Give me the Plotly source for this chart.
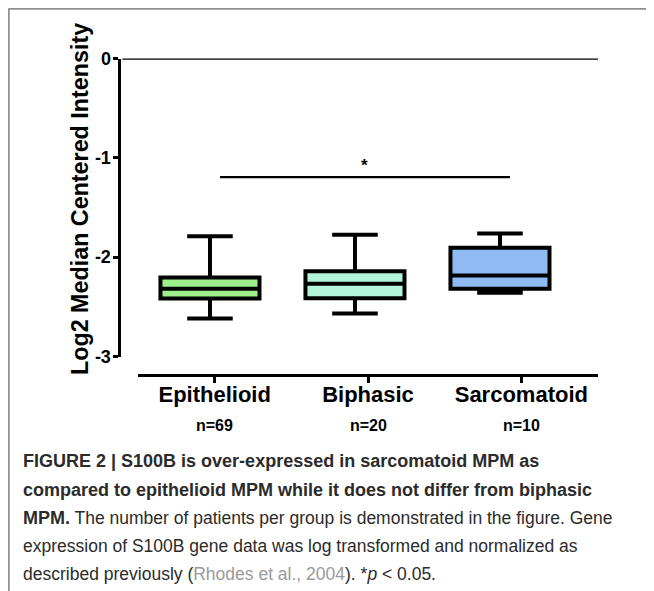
import plotly.graph_objects as go

W, H = 654, 591
OFF = 8  # page body margin of the html page

# ---- data ----
categories = ["Epithelioid", "Biphasic", "Sarcomatoid"]
n_labels = ["n=69", "n=20", "n=10"]
upper_whisker = [-1.79, -1.775, -1.762]
q3_values = [-2.205, -2.141, -1.906]
median_values = [-2.318, -2.268, -2.185]
q1_values = [-2.416, -2.413, -2.318]
lower_whisker = [-2.617, -2.567, -2.359]
box_colors = ["#9DF08C", "#B4F4DC", "#8FBAF4"]
y_tick_vals = [0, -1, -2, -3]
y_tick_text = ["0", "-1", "-2", "-3"]
sig_from, sig_to, sig_level = 0.069, 2.069, -1.195
sig_label = "*"

B = "<span style='font-size:18px'><b>{}</b></span>"
caption_lines = [
    B.format("FIGURE 2 | S100B is over-expressed in sarcomatoid MPM as"),
    B.format("compared to epithelioid MPM while it does not differ from biphasic"),
    B.format("MPM.") + " The number of patients per group is demonstrated in the figure. Gene",
    "expression of S100B gene data was log transformed and normalized as",
    "described previously (<span style='color:#9a9a9a'>Rhodes et al., 2004</span>). *<i>p</i> &lt; 0.05.",
]

FONT = "Liberation Sans, Arial, sans-serif"

def px_x(p):
    return (p - OFF) / W

def px_y(p):
    return 1 - (p - OFF) / H

fig = go.Figure()

for i, cat in enumerate(categories):
    fig.add_trace(go.Box(
        x=[i], q1=[q1_values[i]], median=[median_values[i]], q3=[q3_values[i]],
        lowerfence=[lower_whisker[i]], upperfence=[upper_whisker[i]],
        width=0.683, whiskerwidth=0.46,
        fillcolor=box_colors[i], line=dict(color="black", width=4),
        boxpoints=False, showlegend=False, hoverinfo="skip",
        xaxis="x", yaxis="y",
    ))

# invisible trace giving the category axis its categories
fig.add_trace(go.Scatter(x=categories, y=[None] * len(categories), xaxis="x2", yaxis="y",
                         mode="markers", showlegend=False, hoverinfo="skip"))

# significance bar
fig.add_shape(type="line", xref="x", yref="y", x0=sig_from, x1=sig_to, y0=sig_level, y1=sig_level,
              line=dict(color="black", width=2.2))
fig.add_annotation(xref="x", yref="y", x=(sig_from + sig_to) / 2, y=sig_level, text="<b>" + sig_label + "</b>",
                   showarrow=False, xanchor="center", yanchor="bottom", yshift=0,
                   font=dict(family=FONT, size=17, color="black"))

# zero line
fig.add_shape(type="line", xref="x domain", yref="y", x0=0.004, x1=1, y0=0, y1=0,
              line=dict(color="black", width=2.5))

# n labels
for cat, nl in zip(categories, n_labels):
    fig.add_annotation(xref="x2", yref="paper", x=cat, y=px_y(425), text="<b>" + nl + "</b>",
                       showarrow=False, xanchor="center", yanchor="middle",
                       font=dict(family=FONT, size=16, color="black"))

# y title
fig.add_annotation(xref="paper", yref="paper", x=px_x(80), y=px_y(199),
                   text="<b>Log2 Median Centered Intensity</b>", textangle=-90, showarrow=False,
                   xanchor="center", yanchor="middle",
                   font=dict(family=FONT, size=23.3, color="black"))

# caption
cap_y = [461, 490, 518, 546, 574]
for line, yy in zip(caption_lines, cap_y):
    fig.add_annotation(xref="paper", yref="paper", x=px_x(21), y=px_y(yy), xanchor="left", yanchor="middle",
                       text=line, showarrow=False, align="left",
                       font=dict(family=FONT, size=17.5, color="#2b2b2b"))

# frame
fig.add_shape(type="line", xref="paper", yref="paper", x0=0.5 / W, x1=1, y0=1 - 0.5 / H, y1=1 - 0.5 / H,
              line=dict(color="#8f8f8f", width=2.5))
fig.add_shape(type="line", xref="paper", yref="paper", x0=0.5 / W, x1=0.5 / W, y0=1 - 0.5 / H, y1=0,
              line=dict(color="#8f8f8f", width=2.5))

fig.update_layout(
    template="none",
    width=W, height=H, autosize=False,
    margin=dict(l=0, r=0, t=0, b=0, pad=0),
    paper_bgcolor="white", plot_bgcolor="rgba(0,0,0,0)",
    boxmode="overlay",
    xaxis=dict(domain=[px_x(120.5), px_x(598)], range=[-0.617, 2.676], visible=False,
               showgrid=False, zeroline=False, automargin=False),
    xaxis2=dict(domain=[px_x(138), px_x(598)], anchor="free", position=px_y(375),
                type="category", categoryorder="array", categoryarray=categories,
                range=[-0.5, 2.5], showline=True, linewidth=3, linecolor="black",
                ticks="outside", ticklen=6, tickwidth=3, tickcolor="black",
                ticklabelstandoff=-7,
                showgrid=False, zeroline=False, automargin=False,
                tickfont=dict(family=FONT, size=22, color="black", weight="bold")),
    yaxis=dict(domain=[px_y(356.5), px_y(58.5)], range=[-3, 0], anchor="x",
               showline=True, linewidth=3, linecolor="black", mirror=False,
               tickvals=y_tick_vals, ticktext=y_tick_text,
               ticks="outside", ticklen=5, tickwidth=3, tickcolor="black",
               ticklabelstandoff=-2,
               showgrid=False, zeroline=False, automargin=False,
               tickfont=dict(family=FONT, size=18, color="black", weight="bold")),
)

fig.write_html("out.html")
